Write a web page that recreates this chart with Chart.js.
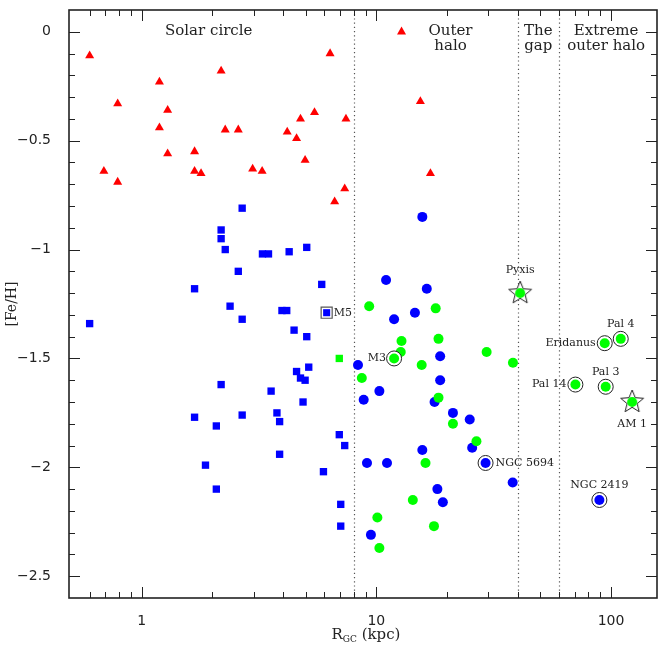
<!DOCTYPE html>
<html>
<head>
<meta charset="utf-8">
<script src="https://cdn.jsdelivr.net/npm/chart.js@4.4.1/dist/chart.umd.min.js"></script>
<style>
  html, body { margin: 0; padding: 0; background: #fff; }
  #wrap { width: 666px; height: 648px; position: relative; }
</style>
</head>
<body>
<div id="wrap"><canvas id="fehChart"></canvas></div>
<script>
// R_GC (kpc) and [Fe/H]

// red triangles
const diskX = [0.60, 0.69, 0.79, 0.79, 1.19, 1.19, 1.29, 1.29, 1.68, 1.68, 1.79, 2.18, 2.27, 2.58,
               2.97, 3.26, 4.17, 4.57, 4.75, 4.97, 5.45, 6.35, 6.64, 7.33, 7.42, 12.8, 15.4, 17.0];
const diskY = [-0.11, -0.64, -0.33, -0.69, -0.23, -0.44, -0.36, -0.56, -0.55, -0.64, -0.65, -0.18, -0.45, -0.45,
               -0.63, -0.64, -0.46, -0.49, -0.40, -0.59, -0.37, -0.10, -0.78, -0.72, -0.40, 0.00, -0.32, -0.65];

// blue squares
const innerHaloX = [2.68, 2.18, 2.18, 2.27, 3.27, 3.47, 4.25, 5.05, 2.58, 1.68, 5.85, 0.60, 2.38, 2.68,
                    3.96, 4.15, 4.46, 5.05, 5.15, 4.57, 4.75, 4.97, 2.18, 3.56, 4.87, 3.77, 3.87, 2.68,
                    1.68, 2.08, 6.95, 7.33, 3.87, 1.87, 5.95, 2.08, 7.05, 7.05];
const innerHaloY = [-0.81, -0.91, -0.95, -1.00, -1.02, -1.02, -1.01, -0.99, -1.10, -1.18, -1.16, -1.34, -1.26, -1.32,
                    -1.28, -1.28, -1.37, -1.40, -1.54, -1.56, -1.59, -1.60, -1.62, -1.65, -1.70, -1.75, -1.79, -1.76,
                    -1.77, -1.81, -1.85, -1.90, -1.94, -1.99, -2.02, -2.10, -2.17, -2.27];

// green square
const innerYoungX = [6.95];
const innerYoungY = [-1.50];

// blue circles
const outerOldX = [15.7, 11.0, 16.4, 11.9, 14.6, 18.7, 8.35, 18.7, 10.3, 8.83, 17.7, 21.2, 25.0, 15.7,
                   25.6, 9.12, 11.1, 38.1, 18.2, 19.2, 9.48];
const outerOldY = [-0.85, -1.14, -1.18, -1.32, -1.29, -1.49, -1.53, -1.60, -1.65, -1.69, -1.70, -1.75, -1.78, -1.92,
                   -1.91, -1.98, -1.98, -2.07, -2.10, -2.16, -2.31];

// green circles
const outerYoungX = [9.32, 17.9, 12.8, 18.4, 12.7, 29.5, 38.2, 15.6, 8.67, 18.4, 21.2, 26.7, 16.2, 14.3,
                     10.1, 17.6, 10.3];
const outerYoungY = [-1.26, -1.27, -1.42, -1.41, -1.47, -1.47, -1.52, -1.53, -1.59, -1.68, -1.80, -1.88, -1.98, -2.15,
                     -2.23, -2.27, -2.37];

// named clusters
const namedSquareNames = ['M5'];
const namedSquareX = [6.14];
const namedSquareY = [-1.29];

const namedBlueNames = ['NGC 5694', 'NGC 2419'];
const namedBlueX = [29.2, 89.2];
const namedBlueY = [-1.98, -2.15];

const namedGreenNames = ['M3', 'Pal 14', 'Eridanus', 'Pal 3', 'Pal 4'];
const namedGreenX = [11.9, 70.5, 94.0, 94.9, 110];
const namedGreenY = [-1.50, -1.62, -1.43, -1.63, -1.41];

const starNames = ['Pyxis', 'AM 1'];
const starX = [41.0, 123];
const starY = [-1.20, -1.70];

// zones
const zoneEdges = [8, 40, 60];
const zoneNames = [['Solar circle'], ['Outer', 'halo'], ['The', 'gap'], ['Extreme', 'outer halo']];

// ticks
const xMajorTicks = [1, 10, 100];
const xMinorTicks = [0.6, 0.7, 0.8, 0.9, 2, 3, 4, 5, 6, 7, 8, 9, 20, 30, 40, 50, 60, 70, 80, 90];
const yMajorTicks = [0, -0.5, -1, -1.5, -2, -2.5];
const yMinorTicks = [-0.1, -0.2, -0.3, -0.4, -0.6, -0.7, -0.8, -0.9, -1.1, -1.2, -1.3, -1.4,
                     -1.6, -1.7, -1.8, -1.9, -2.1, -2.2, -2.3, -2.4];

// layout of annotations (pixels / axis positions)
const zoneLabelAt = [1.93, 20.7, 49, 95.3];
const labelPlace = {
    'M5': [7, 0, 'left'],
    'M3': [-8, 0, 'right'],
    'NGC 5694': [10, 0, 'left'],
    'NGC 2419': [0, -15, 'center'],
    'Pal 14': [-9, 0, 'right'],
    'Eridanus': [-9, 0, 'right'],
    'Pal 3': [0, -15, 'center'],
    'Pal 4': [0, -15, 'center'],
    'Pyxis': [0, -23, 'center'],
    'AM 1': [0, 22, 'center']
};

const RED = '#ff0000', BLUE = '#0000ff', GREEN = '#00ff00', INK = '#222';

function pts(xs, ys) {
    return xs.map((v, i) => ({ x: v, y: ys[i] }));
}

function makeStar() {
    const c = document.createElement('canvas');
    c.width = 28; c.height = 28;
    const g = c.getContext('2d');
    const cx = 14, cy = 14, R = 12, r = 5.3;
    g.beginPath();
    for (let i = 0; i < 10; i++) {
        const a = -Math.PI / 2 + i * Math.PI / 5;
        const rr = i % 2 === 0 ? R : r;
        g.lineTo(cx + rr * Math.cos(a), cy + rr * Math.sin(a));
    }
    g.closePath();
    g.fillStyle = '#fff';
    g.fill();
    g.strokeStyle = INK;
    g.lineWidth = 1;
    g.stroke();
    g.beginPath();
    g.arc(cx, cy, 5, 0, 2 * Math.PI);
    g.fillStyle = GREEN;
    g.fill();
    return c;
}

const framePlugin = {
    id: 'frame',
    beforeDatasetsDraw(chart) {
        const { ctx, chartArea: a, scales: { x } } = chart;
        ctx.save();
        ctx.strokeStyle = '#555';
        ctx.lineWidth = 1.2;
        ctx.setLineDash([1.2, 3]);
        zoneEdges.forEach(v => {
            const px = Math.round(x.getPixelForValue(v)) + 0.5;
            ctx.beginPath();
            ctx.moveTo(px, a.top);
            ctx.lineTo(px, a.bottom);
            ctx.stroke();
        });
        ctx.restore();
    },
    afterDatasetsDraw(chart) {
        const { ctx, scales: { x, y } } = chart;
        ctx.save();
        ctx.fillStyle = INK;
        ctx.textBaseline = 'middle';

        // zone captions
        ctx.font = '15px "DejaVu Serif"';
        ctx.textAlign = 'center';
        zoneNames.forEach((lines, i) => {
            const px = x.getPixelForValue(zoneLabelAt[i]);
            lines.forEach((t, j) => ctx.fillText(t, px, 31 + j * 15));
        });

        // cluster names
        ctx.font = '11px "DejaVu Serif"';
        const groups = [
            [namedSquareNames, namedSquareX, namedSquareY],
            [namedBlueNames, namedBlueX, namedBlueY],
            [namedGreenNames, namedGreenX, namedGreenY],
            [starNames, starX, starY]
        ];
        groups.forEach(([names, xs, ys]) => {
            names.forEach((n, i) => {
                const p = labelPlace[n];
                ctx.textAlign = p[2];
                ctx.fillText(n, x.getPixelForValue(xs[i]) + p[0], y.getPixelForValue(ys[i]) + p[1]);
            });
        });

        // x axis title with subscript
        const cx = (chart.chartArea.left + chart.chartArea.right) / 2 + 3;
        const base = 639;
        ctx.textBaseline = 'alphabetic';
        ctx.textAlign = 'left';
        ctx.font = '15px "DejaVu Serif"';
        const wR = ctx.measureText('R').width;
        const wK = ctx.measureText(' (kpc)').width;
        ctx.font = '9px "DejaVu Serif"';
        const wS = ctx.measureText('GC').width;
        let sx = cx - (wR + wS + wK) / 2;
        ctx.font = '15px "DejaVu Serif"';
        ctx.fillText('R', sx, base);
        ctx.font = '9px "DejaVu Serif"';
        ctx.fillText('GC', sx + wR, base + 3);
        ctx.font = '15px "DejaVu Serif"';
        ctx.fillText(' (kpc)', sx + wR + wS, base);
        ctx.restore();
    },
    afterDraw(chart) {
        const { ctx, chartArea: a, scales: { x, y } } = chart;
        ctx.save();
        ctx.strokeStyle = INK;
        ctx.lineWidth = 1;
        const tick = (vals, len) => {
            vals.forEach(v => {
                const px = Math.round(x.getPixelForValue(v)) + 0.5;
                ctx.beginPath();
                ctx.moveTo(px, a.bottom); ctx.lineTo(px, a.bottom - len);
                ctx.moveTo(px, a.top); ctx.lineTo(px, a.top + len);
                ctx.stroke();
            });
        };
        const ytick = (vals, len) => {
            vals.forEach(v => {
                const py = Math.round(y.getPixelForValue(v)) + 0.5;
                ctx.beginPath();
                ctx.moveTo(a.left, py); ctx.lineTo(a.left + len, py);
                ctx.moveTo(a.right, py); ctx.lineTo(a.right - len, py);
                ctx.stroke();
            });
        };
        tick(xMajorTicks, 11);
        tick(xMinorTicks, 6);
        ytick(yMajorTicks, 11);
        ytick(yMinorTicks, 6);
        ctx.lineWidth = 1.6;
        ctx.strokeRect(a.left, a.top, a.right - a.left, a.bottom - a.top);
        ctx.restore();
    }
};

const tickFont = { family: 'DejaVu Sans', size: 14 };

new Chart(document.getElementById('fehChart'), {
    type: 'scatter',
    data: {
        datasets: [
            { data: pts(starX, starY), pointStyle: makeStar(), order: 0 },
            { data: pts(namedGreenX, namedGreenY), pointStyle: 'circle', pointRadius: 5, backgroundColor: GREEN, borderWidth: 0, order: 1 },
            { data: pts(namedBlueX, namedBlueY), pointStyle: 'circle', pointRadius: 5, backgroundColor: BLUE, borderWidth: 0, order: 1 },
            { data: pts(namedSquareX, namedSquareY), pointStyle: 'rect', pointRadius: 5, backgroundColor: BLUE, borderWidth: 0, order: 1 },
            { data: pts(namedGreenX, namedGreenY), pointStyle: 'circle', pointRadius: 7.5, backgroundColor: '#fff', borderColor: INK, borderWidth: 1, order: 2 },
            { data: pts(namedBlueX, namedBlueY), pointStyle: 'circle', pointRadius: 7.5, backgroundColor: '#fff', borderColor: INK, borderWidth: 1, order: 2 },
            { data: pts(namedSquareX, namedSquareY), pointStyle: 'rect', pointRadius: 7.8, backgroundColor: '#fff', borderColor: '#555', borderWidth: 1.2, order: 2 },
            { data: pts(outerYoungX, outerYoungY), pointStyle: 'circle', pointRadius: 5, backgroundColor: GREEN, borderWidth: 0, order: 3 },
            { data: pts(outerOldX, outerOldY), pointStyle: 'circle', pointRadius: 5, backgroundColor: BLUE, borderWidth: 0, order: 3 },
            { data: pts(innerYoungX, innerYoungY), pointStyle: 'rect', pointRadius: 5.2, backgroundColor: GREEN, borderWidth: 0, order: 3 },
            { data: pts(innerHaloX, innerHaloY), pointStyle: 'rect', pointRadius: 5.2, backgroundColor: BLUE, borderWidth: 0, order: 3 },
            { data: pts(diskX, diskY), pointStyle: 'triangle', pointRadius: 5.2, backgroundColor: RED, borderWidth: 0, order: 3 }
        ]
    },
    options: {
        responsive: true,
        maintainAspectRatio: false,
        animation: false,
        layout: { padding: { top: 10, right: 8, left: 0, bottom: 0 } },
        plugins: { legend: { display: false }, tooltip: { enabled: false } },
        scales: {
            x: {
                type: 'logarithmic',
                min: 0.49,
                max: 157,
                grid: { display: false },
                border: { display: false },
                afterBuildTicks: s => { s.ticks = xMajorTicks.map(v => ({ value: v })); },
                afterFit: s => { s.height = 50; s.paddingLeft = 0; s.paddingRight = 0; },
                ticks: { padding: 7, maxRotation: 0, autoSkip: false, color: INK, font: tickFont,
                         callback: v => String(v) }
            },
            y: {
                type: 'linear',
                min: -2.6,
                max: 0.1,
                grid: { display: false },
                border: { display: false },
                afterBuildTicks: s => { s.ticks = yMajorTicks.map(v => ({ value: v })); },
                afterFit: s => { s.width = 69; s.paddingTop = 0; s.paddingBottom = 0; },
                title: { display: true, text: '[Fe/H]', color: INK,
                         font: { family: 'DejaVu Serif', size: 14 }, padding: { top: 4, bottom: 0 } },
                ticks: { padding: 10, color: INK, font: tickFont,
                         callback: v => v === 0 ? '0' : '\u2212' + Math.abs(v) }
            }
        }
    },
    plugins: [framePlugin]
});
</script>
</body>
</html>
